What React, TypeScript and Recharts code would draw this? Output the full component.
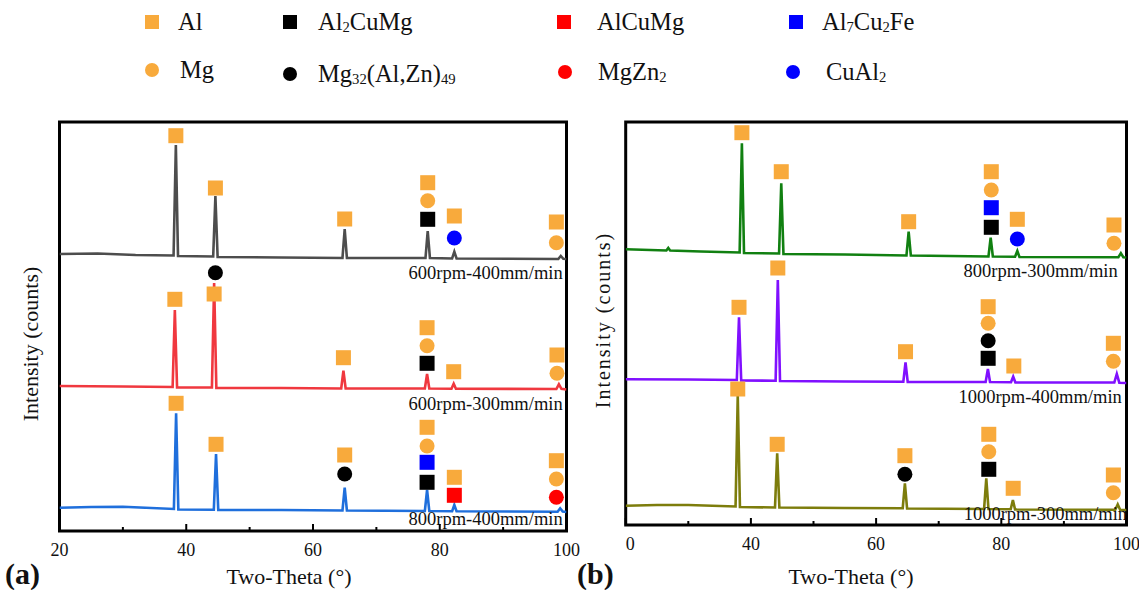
import React from 'react'
import { ComposedChart, Line, Scatter, XAxis, YAxis, ReferenceArea } from 'recharts'

const SERIF = '"Liberation Serif", "Times New Roman", serif'
const ORANGE = '#f8aa3c'

const TICKS = [20, 30, 40, 50, 60, 70, 80, 90, 100]

// panel (a) traces: [2theta, counts]
const A_600_400 = [
  [20, 2770], [26, 2775], [32, 2760], [38.0, 2755], [38.36, 3860], [38.7, 2750],
  [44.25, 2745], [44.6, 3350], [44.95, 2740], [55, 2735],
  [64.65, 2730], [65.0, 3020], [65.35, 2730], [77.75, 2730], [78.1, 3000], [78.45, 2730],
  [81.95, 2725], [82.3, 2793], [82.65, 2725], [98.7, 2720], [99.1, 2750], [99.5, 2722], [100, 2720],
]
const A_600_300 = [
  [20, 1450], [30, 1445], [37.85, 1440], [38.2, 2210], [38.55, 1435],
  [44.05, 1435], [44.4, 2480], [44.75, 1430], [55, 1430],
  [64.45, 1425], [64.8, 1603], [65.15, 1425], [77.65, 1425], [78.0, 1570], [78.35, 1425],
  [81.85, 1423], [82.2, 1473], [82.55, 1423], [98.4, 1420], [98.8, 1467], [99.2, 1422], [100, 1415],
]
const A_800_400 = [
  [20, 233], [25, 240], [30, 243], [38.05, 220], [38.4, 1177], [38.75, 215],
  [44.35, 212], [44.7, 770], [45.05, 210], [55, 210],
  [64.65, 205], [65.0, 433], [65.35, 205], [77.65, 200], [78.0, 410], [78.35, 200],
  [81.95, 197], [82.3, 260], [82.65, 197], [98.6, 193], [99.0, 227], [99.4, 195], [100, 190],
]

// panel (a) phase markers
const A_AL = [
  [38.36, 3953], [44.6, 3430], [65.0, 3120], [78.1, 3483], [82.3, 3150], [98.4, 3090],
  [38.2, 2317], [44.4, 2370], [64.8, 1733], [78.0, 2033], [82.2, 1593], [98.5, 1760],
  [38.4, 1277], [44.7, 867], [65.0, 760], [78.0, 1037], [82.3, 537], [98.4, 703],
]
const A_MG = [[78.1, 3303], [98.4, 2883], [78.0, 1853], [98.5, 1577], [78.0, 850], [98.4, 520]]
const A_AL2CUMG = [[78.1, 3117], [78.0, 1677], [78.0, 487]]
const A_MG32 = [[44.6, 2583], [65.0, 570]]
const A_ALCUMG = [[82.3, 357]]
const A_MGZN2 = [[98.4, 337]]
const A_AL7CU2FE = [[78.0, 687]]
const A_CUAL2 = [[82.3, 2930]]

const A_LABELS: [string, number, number][] = [
  ['600rpm-400mm/min', 99.4, 2580],
  ['600rpm-300mm/min', 99.4, 1270],
  ['800rpm-400mm/min', 99.4, 117],
]

// panel (b) traces
const B_800_300 = [
  [20, 2757], [26.5, 2745], [26.8, 2770], [27.1, 2745], [32, 2735], [38.2, 2725], [38.56, 3817], [38.9, 2720],
  [44.5, 2715], [44.85, 3417], [45.2, 2710], [55, 2705],
  [64.85, 2695], [65.2, 2933], [65.55, 2695], [77.95, 2685], [78.3, 2873], [78.65, 2685],
  [82.2, 2683], [82.56, 2740], [82.9, 2680], [98.7, 2677], [99.1, 2717], [99.5, 2677], [100, 2675],
]
const B_1000_400 = [
  [20, 1457], [30, 1455], [37.75, 1450], [38.1, 2077], [38.45, 1445],
  [43.95, 1443], [44.3, 2450], [44.65, 1440], [55, 1435],
  [64.35, 1433], [64.7, 1627], [65.05, 1430], [77.5, 1430], [77.86, 1560], [78.2, 1430],
  [81.55, 1428], [81.9, 1483], [82.25, 1425], [98.05, 1425], [98.45, 1510], [98.85, 1423], [100, 1420],
]
const B_1000_300 = [
  [20, 193], [25, 200], [30, 200], [37.55, 185], [37.9, 1300], [38.25, 180],
  [43.85, 175], [44.2, 717], [44.55, 175], [55, 170],
  [64.25, 167], [64.6, 417], [64.95, 165], [77.25, 160], [77.6, 467], [77.95, 160],
  [81.5, 157], [81.85, 250], [82.2, 155], [98.2, 153], [98.6, 207], [99.0, 150], [100, 150],
]

const B_AL = [
  [38.56, 3923], [44.85, 3533], [65.2, 3033], [78.4, 3533], [82.56, 3057], [98.0, 3000],
  [38.1, 2177], [44.3, 2570], [64.7, 1733], [77.9, 2183], [82.0, 1590], [97.9, 1817],
  [37.9, 1360], [44.2, 807], [64.6, 693], [78.0, 907], [81.9, 367], [97.9, 500],
]
const B_MG = [[78.4, 3350], [98.0, 2817], [77.9, 2017], [97.9, 1637], [78.0, 733], [97.9, 323]]
const B_AL2CUMG = [[78.4, 2977], [77.9, 1667], [78.0, 557]]
const B_MG32 = [[77.9, 1843], [64.6, 507]]
const B_AL7CU2FE = [[78.4, 3173]]
const B_CUAL2 = [[82.56, 2860]]

const B_LABELS: [string, number, number][] = [
  ['800rpm-300mm/min', 98.6, 2540],
  ['1000rpm-400mm/min', 99.25, 1283],
  ['1000rpm-300mm/min', 100.1, 107],
]

const pts = (a: number[][]) => a.map(([x, y]) => ({ x, y }))
const lbls = (a: [string, number, number][]) => a.map(([name, x, y]) => ({ name, x, y }))

const square = (color: string) => (p: any) => (
  <rect x={p.cx - 7.5} y={p.cy - 7.5} width={15} height={15} fill={color} />
)
const circle = (color: string) => (p: any) => <circle cx={p.cx} cy={p.cy} r={7.5} fill={color} />
const sampleLabel = (p: any) => (
  <text x={p.cx} y={p.cy} textAnchor="end" dominantBaseline="central" fontSize={18.5} fontFamily={SERIF} fill="#111">
    {p.payload.name}
  </text>
)

const XTick = ({ x, y, payload, cropFirst }: any) => {
  const v = payload.value
  const major = v % 20 === 0
  let text = major ? String(v) : ''
  let tx = x
  if (cropFirst && v === 20) { text = '0'; tx = x + 4.5 }
  return (
    <g>
      <line x1={x} x2={x} y1={y} y2={y - (major ? 7 : 4)} stroke="#000" strokeWidth={2} />
      {text && (
        <text x={tx} y={y + 25} textAnchor="middle" fontSize={18} fontFamily={SERIF} fill="#111">{text}</text>
      )}
    </g>
  )
}

const Panel = ({ left, width, margin, yMax, traces, phases, labels, cropFirst }: any) => (
  <div style={{ position: 'absolute', left, top: 0 }}>
    <ComposedChart width={width} height={590} margin={margin}>
      <XAxis
        dataKey="x" type="number" domain={[20, 100]} ticks={TICKS} interval={0} height={30}
        axisLine={false} tickLine={false} tickSize={0} tickMargin={0} allowDataOverflow
        tick={(p: any) => <XTick {...p} cropFirst={cropFirst} />}
      />
      <YAxis dataKey="y" type="number" domain={[0, yMax]} hide allowDataOverflow />
      <ReferenceArea x1={20} x2={100} y1={0} y2={yMax} fill="none" fillOpacity={0} stroke="#000" strokeWidth={3} ifOverflow="visible" />
      {traces.map((t: any) => (
        <Line key={t.name} data={pts(t.data)} dataKey="y" stroke={t.color} strokeWidth={2.6}
          dot={false} type="linear" isAnimationActive={false} />
      ))}
      {phases.map((ph: any, i: number) => (
        <Scatter key={i} data={pts(ph.data)} dataKey="y" isAnimationActive={false}
          shape={ph.kind === 'sq' ? square(ph.color) : circle(ph.color)} />
      ))}
      <Scatter data={lbls(labels)} dataKey="y" isAnimationActive={false} shape={sampleLabel} />
    </ComposedChart>
  </div>
)

const LEGEND = [
  { kind: 'sq', color: ORANGE, cx: 152, cy: 22, tx: 178, text: <>Al</> },
  { kind: 'sq', color: '#000', cx: 290, cy: 22, tx: 318, text: <>Al<sub>2</sub>CuMg</> },
  { kind: 'sq', color: '#ff0000', cx: 564, cy: 22, tx: 597, text: <>AlCuMg</> },
  { kind: 'sq', color: '#0000ff', cx: 796, cy: 22, tx: 822, text: <>Al<sub>7</sub>Cu<sub>2</sub>Fe</> },
  { kind: 'ci', color: ORANGE, cx: 152, cy: 70, tx: 180, text: <>Mg</> },
  { kind: 'ci', color: '#000', cx: 290, cy: 74, tx: 318, text: <>Mg<sub>32</sub>(Al,Zn)<sub>49</sub></> },
  { kind: 'ci', color: '#ff0000', cx: 565, cy: 72, tx: 598, text: <>MgZn<sub>2</sub></> },
  { kind: 'ci', color: '#0000ff', cx: 793, cy: 72, tx: 826, text: <>CuAl<sub>2</sub></> },
]

const subStyle = `sub{font-size:0.6em;vertical-align:-0.12em;line-height:0}`

export default function App() {
  return (
    <div style={{ position: 'absolute', left: 0, top: 0, width: 1139, height: 590, background: '#fff', overflow: 'hidden', fontFamily: SERIF, color: '#111' }}>
      <style>{subStyle}</style>
      {LEGEND.map((l, i) => (
        <React.Fragment key={i}>
          <div style={{
            position: 'absolute', left: l.cx - 7, top: l.cy - 7, width: 14, height: 14,
            background: l.color, borderRadius: l.kind === 'ci' ? '50%' : 0,
          }} />
          <div style={{ position: 'absolute', left: l.tx, top: l.cy - 15, fontSize: 24.5, lineHeight: '30px', whiteSpace: 'nowrap' }}>
            {l.text}
          </div>
        </React.Fragment>
      ))}

      <Panel
        left={0} width={580} yMax={4090} margin={{ top: 122, right: 13.5, left: 59.5, bottom: 29 }}
        traces={[
          { name: 'a1', data: A_600_400, color: '#4d4d4d' },
          { name: 'a2', data: A_600_300, color: '#f0383f' },
          { name: 'a3', data: A_800_400, color: '#1f6fdc' },
        ]}
        phases={[
          { data: A_AL, kind: 'sq', color: ORANGE },
          { data: A_MG, kind: 'ci', color: ORANGE },
          { data: A_AL2CUMG, kind: 'sq', color: '#000' },
          { data: A_MG32, kind: 'ci', color: '#000' },
          { data: A_ALCUMG, kind: 'sq', color: '#ff0000' },
          { data: A_MGZN2, kind: 'ci', color: '#ff0000' },
          { data: A_AL7CU2FE, kind: 'sq', color: '#0000ff' },
          { data: A_CUAL2, kind: 'ci', color: '#0000ff' },
        ]}
        labels={A_LABELS}
      />
      <Panel
        left={580} width={559} yMax={4030} margin={{ top: 122, right: 12.5, left: 45.7, bottom: 35 }}
        cropFirst
        traces={[
          { name: 'b1', data: B_800_300, color: '#118011' },
          { name: 'b2', data: B_1000_400, color: '#8010ff' },
          { name: 'b3', data: B_1000_300, color: '#7d7d0c' },
        ]}
        phases={[
          { data: B_AL, kind: 'sq', color: ORANGE },
          { data: B_MG, kind: 'ci', color: ORANGE },
          { data: B_AL2CUMG, kind: 'sq', color: '#000' },
          { data: B_MG32, kind: 'ci', color: '#000' },
          { data: B_AL7CU2FE, kind: 'sq', color: '#0000ff' },
          { data: B_CUAL2, kind: 'ci', color: '#0000ff' },
        ]}
        labels={B_LABELS}
      />

      <div style={{ position: 'absolute', left: 31, top: 344, transform: 'translate(-50%, -50%) rotate(-90deg)', fontSize: 22, whiteSpace: 'nowrap' }}>
        Intensity (counts)
      </div>
      <div style={{ position: 'absolute', left: 603, top: 320, transform: 'translate(-50%, -50%) rotate(-90deg)', fontSize: 20, letterSpacing: 2, whiteSpace: 'nowrap' }}>
        Intensity (counts)
      </div>

      <div style={{ position: 'absolute', left: 289, top: 577, transform: 'translate(-50%, -50%)', fontSize: 22, whiteSpace: 'nowrap' }}>
        Two-Theta (°)
      </div>
      <div style={{ position: 'absolute', left: 851, top: 577, transform: 'translate(-50%, -50%)', fontSize: 22, whiteSpace: 'nowrap' }}>
        Two-Theta (°)
      </div>

      <div style={{ position: 'absolute', left: 5, top: 574, transform: 'translateY(-50%)', fontSize: 30, fontWeight: 'bold' }}>(a)</div>
      <div style={{ position: 'absolute', left: 577, top: 574, transform: 'translateY(-50%)', fontSize: 30, fontWeight: 'bold' }}>(b)</div>
    </div>
  )
}
